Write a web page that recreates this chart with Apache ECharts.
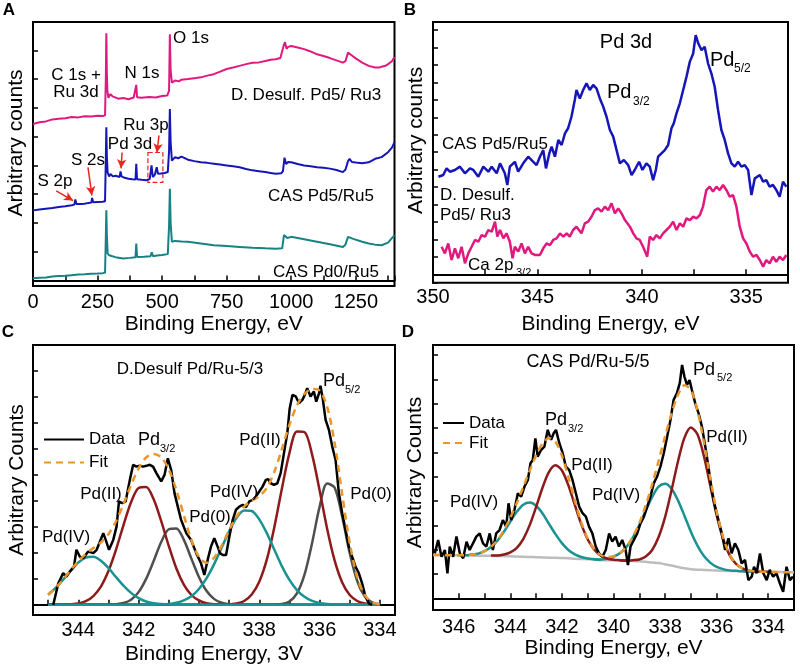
<!DOCTYPE html>
<html>
<head>
<meta charset="utf-8">
<script src="https://cdn.jsdelivr.net/npm/echarts@6.0.0/dist/echarts.min.js"></script>
<style>
html, body { margin: 0; padding: 0; background: #fff; }
#chart { width: 800px; height: 671px; }
</style>
</head>
<body>
<div id="chart"></div>
<script>
// ---- data (arbitrary counts, stacked offsets) ----
// A: survey spectra [binding energy eV, counts]
var surveyDesulf = [[0,5.44],[25,5.50],[50,5.53],[75,5.60],[100,5.62],[125,5.64],[150,5.68],[175,5.67],[200,5.71],[225,5.70],[250,5.73],[270,5.72],[279,5.74],[282,7.0],[284,8.59],[286,7.2],[288,6.60],[292,6.35],[300,6.48],[308,6.40],[315,6.36],[330,6.32],[350,6.34],[370,6.30],[390,6.36],[397,6.35],[400,6.80],[403,6.37],[420,6.35],[450,6.38],[475,6.36],[500,6.41],[520,6.43],[527,6.6],[530,8.56],[533,7.3],[538,6.88],[550,6.95],[565,6.92],[575,6.98],[600,7.00],[625,7.03],[650,7.06],[675,7.12],[700,7.17],[725,7.26],[750,7.35],[775,7.40],[800,7.46],[825,7.52],[850,7.57],[875,7.58],[900,7.63],[920,7.67],[940,7.69],[958,7.73],[965,7.78],[972,8.20],[976,8.28],[982,8.05],[988,8.12],[1000,8.15],[1025,8.10],[1050,8.04],[1075,7.96],[1100,7.86],[1125,7.80],[1150,7.73],[1175,7.65],[1200,7.57],[1210,7.62],[1220,7.92],[1226,7.98],[1235,7.82],[1250,7.72],[1275,7.57],[1300,7.46],[1325,7.40],[1340,7.40],[1350,7.43],[1365,7.46],[1375,7.52],[1390,7.62],[1400,7.77]];
var surveyCas55 = [[0,2.44],[25,2.47],[50,2.50],[75,2.52],[100,2.56],[125,2.58],[150,2.62],[160,2.64],[164,2.82],[168,2.66],[185,2.66],[200,2.67],[215,2.70],[226,2.71],[229,2.87],[233,2.72],[250,2.73],[270,2.74],[279,2.76],[282,4.2],[284,5.33],[286,4.3],[289,3.75],[295,3.62],[300,3.70],[310,3.62],[320,3.64],[335,3.60],[339,3.79],[343,3.62],[355,3.57],[370,3.54],[385,3.52],[397,3.51],[400,4.06],[403,3.52],[420,3.50],[440,3.49],[452,3.53],[459,4.00],[464,3.60],[472,3.68],[479,3.94],[484,3.71],[495,3.72],[510,3.74],[522,3.77],[527,4.5],[530,5.96],[533,4.8],[538,4.17],[550,4.29],[562,4.25],[575,4.31],[600,4.20],[625,4.15],[650,4.11],[675,4.09],[700,4.06],[725,4.03],[750,4.00],[775,3.97],[800,3.94],[825,3.88],[850,3.83],[875,3.80],[900,3.77],[920,3.74],[940,3.71],[962,3.73],[968,3.80],[974,4.27],[980,4.05],[988,4.12],[1000,4.11],[1025,4.05],[1050,4.00],[1075,3.97],[1100,3.94],[1125,3.92],[1150,3.89],[1175,3.84],[1200,3.77],[1210,3.85],[1220,4.15],[1226,4.23],[1235,4.12],[1250,4.10],[1275,4.08],[1300,4.11],[1325,4.23],[1350,4.29],[1375,4.46],[1390,4.62],[1400,4.81]];
var surveyCas05 = [[0,0.08],[25,0.10],[50,0.11],[75,0.14],[100,0.16],[125,0.17],[150,0.19],[175,0.21],[200,0.22],[225,0.24],[250,0.25],[270,0.26],[279,0.27],[282,1.5],[284,2.44],[286,1.6],[289,0.95],[295,0.88],[300,0.85],[325,0.80],[350,0.77],[375,0.79],[397,0.81],[400,1.29],[403,0.82],[430,0.83],[455,0.85],[460,0.98],[465,0.85],[480,0.87],[500,0.89],[522,0.92],[527,1.9],[530,3.19],[533,2.0],[538,1.35],[550,1.38],[575,1.36],[600,1.35],[650,1.29],[700,1.23],[750,1.20],[800,1.17],[850,1.14],[900,1.12],[940,1.11],[965,1.12],[972,1.58],[978,1.62],[985,1.48],[1000,1.52],[1050,1.44],[1100,1.35],[1150,1.26],[1200,1.17],[1210,1.25],[1220,1.52],[1226,1.58],[1240,1.45],[1275,1.35],[1300,1.29],[1325,1.25],[1350,1.23],[1375,1.32],[1400,1.58]];

// B: Pd 3d region
var pd3dCas = [[349.74,5.59],[349.51,5.69],[349.35,6.07],[349.19,5.88],[348.95,5.98],[348.71,6.17],[348.47,5.79],[348.23,6.07],[348.07,5.98],[347.83,5.59],[347.59,6.17],[347.35,5.88],[347.19,6.17],[346.95,5.79],[346.79,6.36],[346.56,5.79],[346.44,5.12],[346.32,6.17],[346.08,6.45],[345.92,5.88],[345.68,6.36],[345.44,6.74],[345.28,6.55],[345.04,6.26],[344.88,6.74],[344.72,7.12],[344.59,6.07],[344.43,6.93],[344.32,7.31],[344.16,6.74],[344.00,7.70],[343.84,7.41],[343.68,8.08],[343.53,8.37],[343.37,9.03],[343.21,9.99],[343.13,10.56],[342.97,10.08],[342.81,10.56],[342.65,10.94],[342.49,10.56],[342.33,10.85],[342.17,10.66],[342.01,10.08],[341.85,9.61],[341.69,9.03],[341.53,8.27],[341.37,7.89],[341.21,7.12],[341.05,6.36],[340.86,6.55],[340.65,6.26],[340.49,5.69],[340.34,5.98],[340.13,6.45],[339.97,5.98],[339.78,6.36],[339.62,6.17],[339.46,5.40],[339.33,5.98],[339.22,6.74],[339.06,6.93],[338.90,7.12],[338.74,7.41],[338.58,8.37],[338.47,8.65],[338.34,9.22],[338.18,9.80],[338.02,10.56],[337.86,11.33],[337.70,12.19],[337.54,12.66],[337.42,13.71],[337.30,13.24],[337.14,12.85],[336.99,13.04],[336.83,12.09],[336.67,11.52],[336.51,10.75],[336.35,9.42],[336.19,8.27],[336.03,7.70],[335.87,6.93],[335.71,6.36],[335.55,6.17],[335.39,6.45],[335.23,6.17],[335.07,6.26],[334.91,5.98],[334.75,4.54],[334.59,5.50],[334.35,5.69],[334.19,5.31],[334.04,5.40],[333.88,5.02],[333.72,5.12],[333.56,4.83],[333.40,4.45],[333.24,5.31],[333.08,5.02]];
var pd3dDesulf = [[349.59,1.58],[349.43,1.20],[349.27,1.77],[349.11,0.82],[348.95,1.49],[348.79,0.92],[348.63,1.58],[348.47,0.63],[348.31,1.20],[348.15,1.58],[347.99,1.97],[347.83,1.87],[347.67,2.25],[347.51,2.16],[347.35,2.54],[347.19,2.44],[347.03,3.02],[346.92,2.16],[346.79,2.54],[346.63,2.06],[346.48,2.35],[346.32,1.87],[346.19,0.92],[346.08,1.58],[345.92,1.30],[345.76,1.77],[345.60,1.20],[345.44,1.58],[345.28,1.20],[345.12,1.11],[344.88,1.11],[344.72,1.49],[344.56,1.77],[344.40,1.68],[344.24,1.97],[344.08,2.06],[343.92,2.35],[343.76,2.16],[343.60,2.35],[343.45,2.16],[343.29,2.54],[343.13,2.73],[342.89,2.35],[342.73,2.92],[342.57,3.02],[342.41,3.30],[342.25,3.68],[342.09,3.78],[341.93,3.59],[341.77,3.88],[341.61,3.68],[341.45,4.07],[341.29,3.49],[341.13,3.78],[340.97,3.49],[340.81,3.11],[340.57,2.73],[340.41,2.35],[340.26,2.06],[340.10,1.97],[339.94,1.58],[339.74,1.01],[339.62,2.16],[339.46,1.97],[339.30,2.25],[339.14,2.06],[338.98,2.35],[338.82,2.54],[338.66,2.73],[338.50,3.02],[338.34,2.54],[338.18,2.92],[338.02,2.73],[337.86,3.21],[337.70,3.11],[337.54,3.30],[337.38,3.21],[337.22,3.40],[337.07,3.88],[336.91,4.83],[336.75,5.02],[336.59,4.74],[336.43,5.02],[336.27,4.83],[336.11,5.12],[335.95,4.83],[335.79,4.45],[335.63,4.54],[335.47,3.88],[335.31,2.73],[335.15,2.06],[334.99,1.77],[334.83,1.30],[334.67,1.01],[334.51,1.11],[334.35,0.82],[334.19,0.44],[334.04,0.82],[333.88,0.63],[333.72,1.01],[333.56,0.72],[333.40,1.01],[333.24,0.82],[333.08,1.11]];

// C: D.Desulf Pd/Ru-5/3 fitted
var dataC = [[344.83,0],[344.66,0.83],[344.50,1.22],[344.39,1.09],[344.28,1.28],[344.14,1.47],[344.06,2.12],[343.95,1.86],[343.83,1.80],[343.67,2.05],[343.50,1.99],[343.39,2.12],[343.28,2.44],[343.17,2.76],[343.09,2.50],[342.98,2.12],[342.84,2.50],[342.73,3.01],[342.65,3.98],[342.54,3.91],[342.43,3.98],[342.29,4.81],[342.18,5.39],[342.07,5.32],[341.96,5.36],[341.85,5.32],[341.74,5.35],[341.63,5.39],[341.52,5.32],[341.41,5.07],[341.25,4.75],[341.14,5.00],[341.03,5.64],[340.92,5.19],[340.81,4.30],[340.70,3.78],[340.59,3.27],[340.42,2.76],[340.26,2.50],[340.09,1.99],[339.93,1.60],[339.82,1.15],[339.71,1.73],[339.60,2.24],[339.49,2.57],[339.38,2.24],[339.30,1.99],[339.21,1.92],[339.10,1.92],[338.99,2.63],[338.88,3.27],[338.77,3.66],[338.66,3.78],[338.55,3.85],[338.44,3.76],[338.33,3.98],[338.22,4.04],[338.11,4.17],[338.00,4.36],[337.89,4.55],[337.78,4.81],[337.70,4.84],[337.62,4.68],[337.51,4.62],[337.40,4.68],[337.29,5.07],[337.18,5.84],[337.07,6.61],[336.99,7.57],[336.90,8.08],[336.79,8.02],[336.68,7.76],[336.57,7.89],[336.49,8.08],[336.41,8.34],[336.30,8.02],[336.19,8.21],[336.11,7.82],[336.02,8.14],[335.97,8.43],[335.89,7.89],[335.80,7.12],[335.69,6.73],[335.58,6.09],[335.47,5.58],[335.36,4.30],[335.25,3.53],[335.14,2.89],[335.03,2.24],[334.92,1.86],[334.81,1.47],[334.70,1.22],[334.59,0.83],[334.48,0.32],[334.37,0.06],[334.26,0]];
var energyC = [345.0,344.75,344.5,344.25,344.0,343.75,343.5,343.25,343.0,342.75,342.5,342.25,342.0,341.75,341.5,341.25,341.0,340.75,340.5,340.25,340.0,339.75,339.5,339.25,339.0,338.75,338.5,338.25,338.0,337.75,337.5,337.25,337.0,336.75,336.5,336.25,336.0,335.75,335.5,335.25,335.0,334.75,334.5,334.25,334.0];
var fitC = [0.39,0.65,0.98,1.34,1.68,1.96,2.19,2.40,2.72,3.21,3.88,4.61,5.25,5.67,5.81,5.68,5.22,4.43,3.45,2.49,1.85,1.62,1.81,2.27,2.87,3.40,3.78,4.01,4.18,4.50,5.12,5.99,6.93,7.68,8.12,8.31,8.25,7.63,6.22,4.25,2.37,1.06,0.37,0.10,0.02];
var pd4aC = [0.39,0.65,0.97,1.32,1.63,1.82,1.85,1.70,1.42,1.07,0.74,0.46,0.26,0.13,0.06,0.03,0.01,0,0,0,0,0,0,0,0,0,0,0,0,0,0,0,0,0,0,0,0,0,0,0,0,0,0,0,0];
var pd2aC = [0,0,0.01,0.02,0.05,0.14,0.34,0.70,1.30,2.12,3.07,3.95,4.50,4.54,4.06,3.22,2.27,1.41,0.78,0.38,0.17,0.06,0.02,0.01,0,0,0,0,0,0,0,0,0,0,0,0,0,0,0,0,0,0,0,0,0];
var pd0aC = [0,0,0,0,0,0,0,0,0,0.02,0.07,0.20,0.49,1.00,1.69,2.42,2.91,2.94,2.50,1.78,1.07,0.54,0.23,0.08,0.02,0,0,0,0,0,0,0,0,0,0,0,0,0,0,0,0,0,0,0,0];
var pd4bC = [0,0,0,0,0,0,0,0,0,0,0,0,0,0,0,0.01,0.03,0.08,0.17,0.33,0.61,1.02,1.56,2.19,2.83,3.35,3.63,3.61,3.29,2.76,2.12,1.49,0.96,0.57,0.31,0.15,0.07,0.03,0.01,0,0,0,0,0,0];
var pd2bC = [0,0,0,0,0,0,0,0,0,0,0,0,0,0,0,0,0,0,0,0,0,0,0,0,0.02,0.05,0.15,0.40,0.89,1.74,2.99,4.47,5.84,6.67,6.65,5.79,4.41,2.93,1.70,0.86,0.38,0.15,0.05,0.01,0];
var pd0bC = [0,0,0,0,0,0,0,0,0,0,0,0,0,0,0,0,0,0,0,0,0,0,0,0,0,0,0,0,0,0,0,0.03,0.13,0.44,1.16,2.37,3.77,4.67,4.51,3.39,1.99,0.91,0.32,0.09,0.02];

// D: CAS Pd/Ru-5/5 fitted
var dataD = [[346.93,1.85],[346.80,2.40],[346.67,1.71],[346.54,1.99],[346.44,1.03],[346.35,2.13],[346.22,1.71],[346.09,2.54],[345.96,1.85],[345.83,1.65],[345.70,2.33],[345.58,1.99],[345.45,2.26],[345.32,2.54],[345.19,2.67],[345.06,2.26],[344.93,2.13],[344.80,2.67],[344.68,1.99],[344.55,2.67],[344.42,2.81],[344.29,3.22],[344.16,2.95],[344.07,3.91],[343.97,3.22],[343.84,3.64],[343.71,4.32],[343.58,4.18],[343.45,4.60],[343.32,4.87],[343.22,5.56],[343.13,5.69],[343.03,6.58],[342.94,5.83],[342.81,6.10],[342.68,6.24],[342.55,6.93],[342.42,6.52],[342.32,6.79],[342.23,6.93],[342.10,6.38],[341.97,5.97],[341.85,5.42],[341.72,5.28],[341.59,4.87],[341.46,4.32],[341.33,3.77],[341.20,3.50],[341.07,3.36],[340.95,2.95],[340.82,2.67],[340.69,2.13],[340.56,1.85],[340.43,1.71],[340.30,1.99],[340.17,2.67],[340.05,2.33],[339.92,2.54],[339.79,2.13],[339.66,2.40],[339.53,1.99],[339.44,1.37],[339.34,2.13],[339.21,2.40],[339.08,2.67],[338.95,3.09],[338.82,3.36],[338.69,3.77],[338.57,4.18],[338.44,4.73],[338.31,5.01],[338.18,5.42],[338.05,5.97],[337.92,6.65],[337.79,7.34],[337.67,8.16],[337.54,8.44],[337.43,8.85],[337.34,9.60],[337.25,9.12],[337.15,8.78],[337.05,8.98],[336.96,8.57],[336.83,8.02],[336.70,7.61],[336.57,7.06],[336.44,6.24],[336.32,5.42],[336.19,4.46],[336.06,3.77],[335.93,3.22],[335.80,2.67],[335.67,1.99],[335.54,2.47],[335.42,1.85],[335.29,2.26],[335.16,1.99],[335.03,1.44],[334.90,1.58],[334.77,0.75],[334.64,0.89],[334.55,1.30],[334.45,1.03],[334.32,1.85],[334.19,1.03],[334.06,0.75],[333.94,1.17],[333.81,0.89],[333.68,1.03],[333.55,0.62],[333.42,0.27],[333.29,1.30],[333.16,0.75],[333.04,0.89]];
var energyD = [347.0,346.75,346.5,346.25,346.0,345.75,345.5,345.25,345.0,344.75,344.5,344.25,344.0,343.75,343.5,343.25,343.0,342.75,342.5,342.25,342.0,341.75,341.5,341.25,341.0,340.75,340.5,340.25,340.0,339.75,339.5,339.25,339.0,338.75,338.5,338.25,338.0,337.75,337.5,337.25,337.0,336.75,336.5,336.25,336.0,335.75,335.5,335.25,335.0,334.75,334.5,334.25,334.0,333.75,333.5,333.25,333.0];
var backgroundD = [1.78,1.78,1.77,1.77,1.77,1.76,1.76,1.75,1.75,1.75,1.74,1.74,1.73,1.72,1.71,1.70,1.69,1.68,1.67,1.67,1.66,1.65,1.63,1.62,1.61,1.60,1.58,1.57,1.57,1.56,1.55,1.54,1.52,1.50,1.47,1.45,1.40,1.35,1.29,1.24,1.20,1.18,1.17,1.16,1.14,1.13,1.12,1.12,1.11,1.10,1.10,1.09,1.09,1.08,1.08,1.07,1.07];
var fitD = [1.78,1.78,1.77,1.77,1.77,1.77,1.80,1.84,1.94,2.12,2.39,2.80,3.32,3.92,4.58,5.25,5.88,6.37,6.59,6.44,5.87,4.99,4.02,3.13,2.45,2.03,1.78,1.70,1.73,1.86,2.12,2.53,3.09,3.83,4.69,5.66,6.65,7.60,8.37,8.76,8.57,7.76,6.46,4.96,3.57,2.51,1.81,1.43,1.23,1.14,1.11,1.09,1.09,1.08,1.08,1.07,1.07];
var pd4aD = [[346.0,1.77],[345.75,1.77],[345.5,1.80],[345.25,1.84],[345.0,1.94],[344.75,2.11],[344.5,2.37],[344.25,2.74],[344.0,3.16],[343.75,3.56],[343.5,3.85],[343.25,3.94],[343.0,3.81],[342.75,3.49],[342.5,3.06],[342.25,2.64],[342.0,2.27],[341.75,1.99],[341.5,1.81],[341.25,1.70],[341.0,1.64],[340.75,1.61],[340.5,1.58]];
var pd2aD = [[344.75,1.76],[344.5,1.76],[344.25,1.80],[344.0,1.89],[343.75,2.08],[343.5,2.44],[343.25,3.01],[343.0,3.76],[342.75,4.56],[342.5,5.20],[342.25,5.47],[342.0,5.26],[341.75,4.65],[341.5,3.84],[341.25,3.05],[341.0,2.42],[340.75,2.01],[340.5,1.76],[340.25,1.64],[340.0,1.59],[339.75,1.57],[339.5,1.55]];
var pd4bD = [[340.75,1.61],[340.5,1.60],[340.25,1.63],[340.0,1.71],[339.75,1.85],[339.5,2.11],[339.25,2.50],[339.0,3.01],[338.75,3.61],[338.5,4.17],[338.25,4.59],[338.0,4.71],[337.75,4.51],[337.5,4.03],[337.25,3.40],[337.0,2.74],[336.75,2.18],[336.5,1.75],[336.25,1.47],[336.0,1.29],[335.75,1.20],[335.5,1.15],[335.25,1.13],[335.0,1.11],[334.75,1.10],[334.5,1.10]];
var pd2bD = [[339.75,1.56],[339.5,1.56],[339.25,1.57],[339.0,1.60],[338.75,1.72],[338.5,1.99],[338.25,2.52],[338.0,3.34],[337.75,4.44],[337.5,5.63],[337.25,6.60],[337.0,7.03],[336.75,6.76],[336.5,5.88],[336.25,4.65],[336.0,3.42],[335.75,2.44],[335.5,1.78],[335.25,1.42],[335.0,1.23],[334.75,1.14],[334.5,1.11],[334.25,1.09],[334.0,1.09]];

// ---- helpers ----
var FONT = '"Liberation Sans", Arial, Helvetica, sans-serif';

function zip(xs, ys) {
    return xs.map(function (x, i) { return [x, ys[i]]; });
}
function onStep(v, every) {
    var r = v / every;
    return Math.abs(r - Math.round(r)) < 1e-6;
}
function makeX(grid, min, max, step, every, inverse, name, gap, margin) {
    return {
        type: 'value', gridIndex: grid, min: min, max: max, inverse: inverse,
        minInterval: step, maxInterval: step,
        name: name, nameLocation: 'middle', nameGap: gap,
        nameTextStyle: { fontSize: 21, color: '#000', fontFamily: FONT },
        axisLine: { show: true, lineStyle: { color: '#000', width: 2 } },
        axisTick: { show: true, inside: true, length: 5, lineStyle: { color: '#000', width: 1.5 } },
        axisLabel: {
            show: true, margin: margin, fontSize: 20, color: '#000', fontFamily: FONT,
            showMinLabel: true, showMaxLabel: true,
            formatter: function (v) { return onStep(v, every) ? String(Math.round(v)) : ''; }
        },
        splitLine: { show: false }
    };
}
function makeY(grid, min, max, name, gap, shift) {
    return {
        type: 'value', gridIndex: grid, min: min, max: max,
        minInterval: 1, maxInterval: 1,
        name: name, nameLocation: 'middle', nameGap: gap,
        nameTextStyle: { fontSize: 21, color: '#000', fontFamily: FONT, padding: [0, 0, 0, shift] },
        axisLine: { show: true, lineStyle: { color: '#000', width: 2 } },
        axisTick: { show: true, inside: true, length: 5, lineStyle: { color: '#000', width: 1.5 } },
        axisLabel: { show: false },
        splitLine: { show: false }
    };
}
function makeGrid(left, top, width, height) {
    return {
        left: left, top: top, width: width, height: height,
        show: true, borderColor: '#000', borderWidth: 2, backgroundColor: 'transparent',
        containLabel: false, outerBoundsMode: 'none'
    };
}
function line(name, idx, data, color, width, extra) {
    var s = {
        name: name, type: 'line', xAxisIndex: idx, yAxisIndex: idx, data: data,
        showSymbol: false, symbol: 'none', silent: true, animation: false,
        lineStyle: { color: color, width: width }, itemStyle: { color: color }
    };
    for (var k in extra) s[k] = extra[k];
    return s;
}
function txt(x, y, s, size, align, bold) {
    return {
        type: 'text', x: x, y: y, silent: true, z: 100,
        style: {
            text: s, fontSize: size, fontFamily: FONT, fontWeight: bold ? 'bold' : 'normal', fill: '#000',
            textAlign: align || 'center', textVerticalAlign: 'middle',
            align: align || 'center', verticalAlign: 'middle'
        }
    };
}
function legendAt(left, top, iconWidth, gap) {
    return {
        left: left, top: top, orient: 'vertical', itemWidth: iconWidth, itemHeight: 12, itemGap: gap, padding: 0,
        selectedMode: false, data: ['Data', 'Fit'],
        itemStyle: { opacity: 0, borderWidth: 0 },
        textStyle: { fontSize: 17, color: '#000', fontFamily: FONT }
    };
}

var PINK = '#e0197e', BLUE = '#1515b8', TEAL_A = '#168282';
var RED = '#8e1b1b', TEAL = '#1a9292', GRAY = '#4f4f4f', LIGHT = '#bdbdbd', ORANGE = '#e8962a';
var ARROW = '#e8261f';

var chart = echarts.init(document.getElementById('chart'), null, { renderer: 'canvas' });

var option = {
    animation: false,
    backgroundColor: '#fff',
    grid: [
        makeGrid(33, 22, 361.5, 264),
        makeGrid(433, 22, 355, 260.7),
        makeGrid(33, 345, 362, 270),
        makeGrid(433, 345, 361, 265)
    ],
    xAxis: [
        makeX(0, 0, 1400, 125, 250, false, 'Binding Energy, eV', 28, 6),
        makeX(1, 333, 350, 2.5, 5, true, 'Binding Energy, eV', 31, 5),
        makeX(2, 333.5, 345.5, 1, 2, true, 'Binding Energy, 3V', 29, 5),
        makeX(3, 333, 347, 1, 2, true, 'Binding Energy, eV', 28, 7)
    ],
    yAxis: [
        makeY(0, -0.187, 8.983, 'Arbitrary counts', 6, 22),
        makeY(1, -0.48, 14.46, 'Arbitrary counts', 6, 24),
        makeY(2, -0.39, 10.0, 'Arbitrary Counts', 5, 0),
        makeY(3, -0.48, 10.42, 'Arbitrary Counts', 7, 10)
    ],
    legend: [
        legendAt(43, 431, 40, 6),
        legendAt(442, 414.5, 21, 3)
    ],
    series: [
        // A
        line('D. Desulf. Pd5/Ru3', 0, surveyDesulf, PINK, 2),
        line('CAS Pd5/Ru5', 0, surveyCas55, BLUE, 2, {
            markLine: {
                silent: true, symbol: ['none', 'arrow'], symbolSize: [7, 9],
                lineStyle: { color: ARROW, width: 1.5, type: 'solid' }, label: { show: false },
                data: [
                    [{ coord: [90, 3.12] }, { coord: [155, 2.78] }],
                    [{ coord: [213, 3.93] }, { coord: [228, 2.96] }],
                    [{ coord: [345, 4.45] }, { coord: [341, 3.90] }],
                    [{ coord: [488, 5.04] }, { coord: [480, 4.45] }]
                ]
            },
            markArea: {
                silent: true,
                itemStyle: { color: 'rgba(0,0,0,0)', borderColor: ARROW, borderWidth: 1.2, borderType: 'dashed' },
                data: [[{ coord: [445, 4.45] }, { coord: [503, 3.41] }]]
            }
        }),
        line('CAS Pd0/Ru5', 0, surveyCas05, TEAL_A, 2),
        // B
        line('B CAS Pd5/Ru5', 1, pd3dCas, BLUE, 2.5),
        line('B D. Desulf.', 1, pd3dDesulf, PINK, 2.5),
        // C
        line('Pd(0) C1', 2, zip(energyC, pd0aC), GRAY, 2.5, { smooth: 0.3 }),
        line('Pd(0) C2', 2, zip(energyC, pd0bC), GRAY, 2.5, { smooth: 0.3 }),
        line('Pd(II) C1', 2, zip(energyC, pd2aC), RED, 2.5, { smooth: 0.3 }),
        line('Pd(II) C2', 2, zip(energyC, pd2bC), RED, 2.5, { smooth: 0.3 }),
        line('Pd(IV) C1', 2, zip(energyC, pd4aC), TEAL, 2.5, { smooth: 0.3 }),
        line('Pd(IV) C2', 2, zip(energyC, pd4bC), TEAL, 2.5, { smooth: 0.3 }),
        line('Data', 2, dataC, '#000', 2.5),
        line('Fit', 2, zip(energyC, fitC), ORANGE, 2.5, { smooth: 0.3, lineStyle: { color: ORANGE, width: 2.5, type: [7, 5] } }),
        // D
        line('Background D', 3, zip(energyD, backgroundD), LIGHT, 2.5, { smooth: 0.3 }),
        line('Pd(IV) D1', 3, pd4aD, TEAL, 2.5, { smooth: 0.3 }),
        line('Pd(IV) D2', 3, pd4bD, TEAL, 2.5, { smooth: 0.3 }),
        line('Pd(II) D1', 3, pd2aD, RED, 2.5, { smooth: 0.3 }),
        line('Pd(II) D2', 3, pd2bD, RED, 2.5, { smooth: 0.3 }),
        line('Data D', 3, dataD, '#000', 2.5),
        line('Fit D', 3, zip(energyD, fitD), ORANGE, 2.5, { smooth: 0.3, lineStyle: { color: ORANGE, width: 2.5, type: [7, 5] } })
    ],
    graphic: [
        txt(9, 10, 'A', 17, 'center', true),
        txt(410, 10, 'B', 17, 'center', true),
        txt(8, 332, 'C', 17, 'center', true),
        txt(408, 332, 'D', 17, 'center', true),
        // A labels
        txt(76, 75, 'C 1s +', 17), txt(76, 92, 'Ru 3d', 17), txt(142, 73, 'N 1s', 17),
        txt(191, 38, 'O 1s', 17), txt(306, 95, 'D. Desulf. Pd5/ Ru3', 17),
        txt(146, 125, 'Ru 3p', 17), txt(130, 144, 'Pd 3d', 17), txt(88, 160, 'S 2s', 17),
        txt(55, 181, 'S 2p', 17), txt(321, 196, 'CAS Pd5/Ru5', 17), txt(326, 272, 'CAS Pd0/Ru5', 17),
        // B labels
        txt(626, 42, 'Pd 3d', 20),
        txt(607, 92, 'Pd', 20, 'left'), txt(633, 102, '3/2', 12, 'left'),
        txt(710, 60, 'Pd', 20, 'left'), txt(734, 69, '5/2', 12, 'left'),
        txt(442, 144, 'CAS Pd5/Ru5', 17, 'left'),
        txt(440, 195, 'D. Desulf.', 17, 'left'), txt(440, 215, 'Pd5/ Ru3', 17, 'left'),
        txt(468, 265, 'Ca 2p', 17, 'left'), txt(516, 273, '3/2', 11, 'left'),
        // C labels
        txt(190, 369, 'D.Desulf Pd/Ru-5/3', 17),
        txt(66, 537, 'Pd(IV)', 17), txt(101, 494, 'Pd(II)', 17), txt(210, 517, 'Pd(0)', 17),
        txt(234, 492, 'Pd(IV)', 17), txt(260, 440, 'Pd(II)', 17), txt(371, 494, 'Pd(0)', 17),
        txt(138, 440, 'Pd', 18, 'left'), txt(160, 449, '3/2', 11, 'left'),
        txt(323, 381, 'Pd', 18, 'left'), txt(345, 390, '5/2', 11, 'left'),
        // D labels
        txt(588, 362, 'CAS Pd/Ru-5/5', 18),
        txt(592, 465, 'Pd(II)', 17), txt(474, 502, 'Pd(IV)', 17),
        txt(616, 495, 'Pd(IV)', 17), txt(727, 437, 'Pd(II)', 17),
        txt(545, 420, 'Pd', 18, 'left'), txt(568, 429, '3/2', 11, 'left'),
        txt(693, 370, 'Pd', 18, 'left'), txt(717, 378, '5/2', 11, 'left')
    ]
};

chart.setOption(option);
</script>
</body>
</html>
